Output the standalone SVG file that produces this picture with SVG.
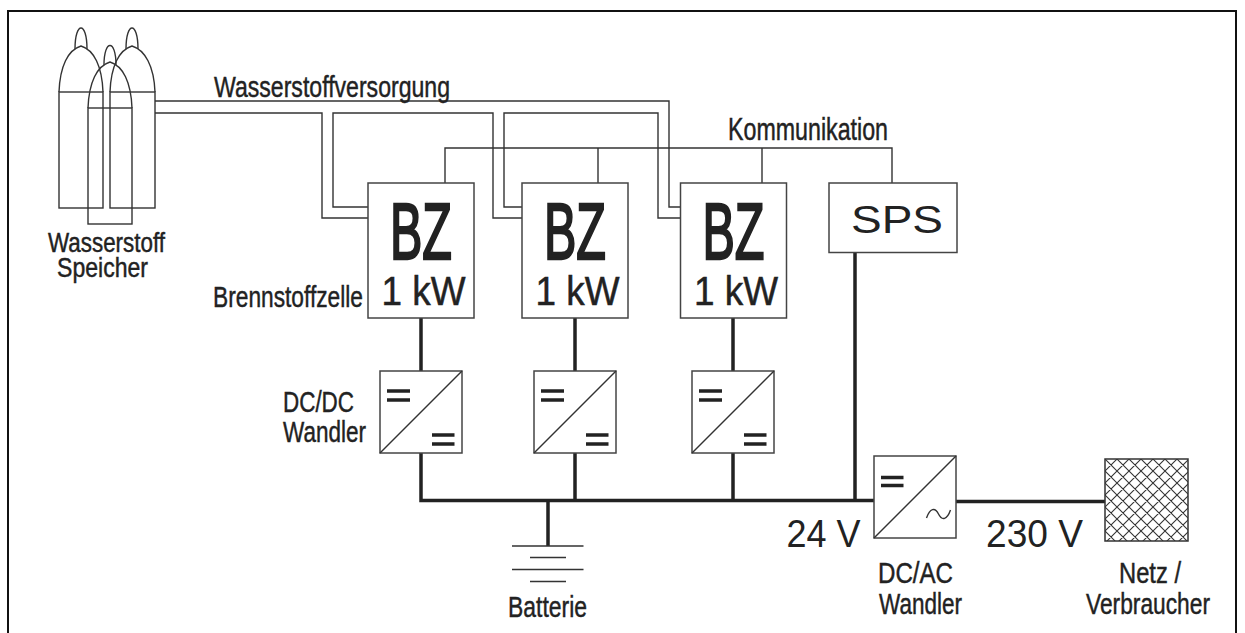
<svg xmlns="http://www.w3.org/2000/svg" width="1245" height="633" viewBox="0 0 1245 633">
  <style>
    .thin { fill: none; stroke: #333; stroke-width: 1.4; }
    .box { fill: #fff; stroke: #444; stroke-width: 1.5; }
    .bold { fill: none; stroke: #222; stroke-width: 3.5; }
    .bar { fill: none; stroke: #222; stroke-width: 3.5; }
    .lbl { font-family: "Liberation Sans", Arial, sans-serif; fill: #222; stroke: #222; stroke-width: 0.45; font-size: 30px; }
    .big { font-family: "Liberation Sans", Arial, sans-serif; fill: #222; }
    .bz { stroke: #222; stroke-width: 2.4; font-size: 79px; }
    .kw { stroke: #222; stroke-width: 0.5; font-size: 40px; }
  </style>
  <defs>
    <pattern id="hatch" width="12" height="12" patternUnits="userSpaceOnUse" x="1105" y="459">
      <path d="M-3,3 L3,-3 M0,12 L12,0 M9,15 L15,9 M-3,9 L3,15 M0,0 L12,12 M9,-3 L15,3" stroke="#333" stroke-width="1.1"/>
    </pattern>
  </defs>
  <rect width="1245" height="633" fill="#fff"/>

  <!-- outer frame -->
  <path d="M8,640 V11 H1236 V640" fill="none" stroke="#111" stroke-width="2"/>

  <!-- hydrogen storage: three gas cylinders -->
  <g id="speicher" class="thin">
    <rect x="59" y="92" width="44" height="116"/>
    <path d="M59,92 C60,66 68,50 81,46 C94,50 102,66 103,92"/>
    <path d="M75,49 C75,21 87,21 87,49"/>
    <rect x="110" y="92" width="45" height="116"/>
    <path d="M110,92 C111,66 119,50 132,46 C145,50 154,66 155,92"/>
    <path d="M126,49 C126,21 138,21 138,49"/>
    <rect x="88" y="108" width="44" height="116"/>
    <path d="M88,108 C89,82 97,66 110,62 C123,66 131,82 132,108"/>
    <path d="M104,65 C104,39 116,39 116,65"/>
  </g>
  <g id="speicher-label" class="lbl">
    <text x="48" y="251.5" textLength="117" lengthAdjust="spacingAndGlyphs" style="font-size:27px">Wasserstoff</text>
    <text x="57" y="277" textLength="91" lengthAdjust="spacingAndGlyphs" style="font-size:27px">Speicher</text>
  </g>

  <!-- connectors -->
  <g id="connectors">
    <!-- hydrogen supply piping -->
    <path class="thin" d="M155,101 H669 V207 H681"/>
    <path class="thin" d="M155,113 H322 V218 H368"/>
    <path class="thin" d="M368,207 H333 V113 H493 V218 H522"/>
    <path class="thin" d="M522,207 H504 V113 H658 V218 H681"/>
    <!-- communication bus -->
    <path class="thin" d="M445,183 V148 H892 V183"/>
    <path class="thin" d="M598,148 V183 M762,148 V183"/>
    <!-- fuel cell to DC/DC -->
    <path class="bold" d="M421,318 V371 M575,318 V371 M733,318 V371"/>
    <!-- 24 V bus -->
    <path class="bold" d="M421,453 V500.5 H874 M575,453 V500.5 M733,453 V500.5 M548,500.5 V546 M855,252 V500.5"/>
    <!-- 230 V output -->
    <path class="bold" d="M956,501.5 H1105"/>
  </g>
  <g id="labels-lines" class="lbl">
    <text x="214" y="96.5" textLength="236" lengthAdjust="spacingAndGlyphs">Wasserstoffversorgung</text>
    <text x="728" y="140" textLength="160" lengthAdjust="spacingAndGlyphs" style="font-size:31px">Kommunikation</text>
  </g>

  <!-- fuel cells -->
  <g id="bz1">
    <rect class="box" x="368" y="183" width="106" height="135"/>
    <text class="big bz" x="390" y="258.5" textLength="62" lengthAdjust="spacingAndGlyphs">BZ</text>
    <text class="big kw" x="381.5" y="305" textLength="84" lengthAdjust="spacingAndGlyphs">1 kW</text>
  </g>
  <g id="bz2">
    <rect class="box" x="522" y="183" width="106" height="135"/>
    <text class="big bz" x="544" y="258.5" textLength="62" lengthAdjust="spacingAndGlyphs">BZ</text>
    <text class="big kw" x="535.5" y="305" textLength="84" lengthAdjust="spacingAndGlyphs">1 kW</text>
  </g>
  <g id="bz3">
    <rect class="box" x="680.5" y="183" width="106" height="135"/>
    <text class="big bz" x="702.5" y="258.5" textLength="62" lengthAdjust="spacingAndGlyphs">BZ</text>
    <text class="big kw" x="694" y="305" textLength="84" lengthAdjust="spacingAndGlyphs">1 kW</text>
  </g>
  <g id="bz-label" class="lbl">
    <text x="213" y="306.5" textLength="150" lengthAdjust="spacingAndGlyphs">Brennstoffzelle</text>
  </g>

  <!-- PLC -->
  <g id="sps">
    <rect class="box" x="829" y="183" width="128" height="69.5"/>
    <text class="big" x="851" y="233.3" textLength="92" lengthAdjust="spacingAndGlyphs" style="font-size:38px">SPS</text>
  </g>

  <!-- DC/DC converters -->
  <g id="dcdc1">
    <rect class="box" x="380" y="371" width="82" height="82"/>
    <path class="thin" d="M380,453 L462,371"/>
    <path class="bar" d="M387,391 H410 M387,400 H410 M432,435 H454.5 M432,444 H454.5"/>
  </g>
  <g id="dcdc2">
    <rect class="box" x="534" y="371" width="82" height="82"/>
    <path class="thin" d="M534,453 L616,371"/>
    <path class="bar" d="M541,391 H564 M541,400 H564 M586,435 H608.5 M586,444 H608.5"/>
  </g>
  <g id="dcdc3">
    <rect class="box" x="692" y="371" width="82" height="82"/>
    <path class="thin" d="M692,453 L774,371"/>
    <path class="bar" d="M699,391 H722 M699,400 H722 M744,435 H766.5 M744,444 H766.5"/>
  </g>
  <g id="dcdc-label" class="lbl">
    <text x="283" y="412" textLength="71" lengthAdjust="spacingAndGlyphs">DC/DC</text>
    <text x="283" y="441.5" textLength="83" lengthAdjust="spacingAndGlyphs">Wandler</text>
  </g>

  <!-- battery -->
  <g id="batterie">
    <path class="thin" d="M512,546 H583.5 M530,557.5 H566 M512,569.5 H583.5 M530,581.5 H566"/>
    <text class="lbl" x="508" y="616.5" textLength="79" lengthAdjust="spacingAndGlyphs">Batterie</text>
  </g>

  <!-- DC/AC inverter -->
  <g id="dcac">
    <rect class="box" x="874" y="456" width="82" height="82"/>
    <path class="thin" d="M874,538 L956,456"/>
    <path class="bar" d="M881,477.5 H903.5 M881,485.5 H903.5"/>
    <path class="thin" d="M926.5,518 C930,508 935,507 938.5,514 C942,521 947,520 950.5,510"/>
    <text class="lbl" x="878" y="583.3" textLength="75" lengthAdjust="spacingAndGlyphs">DC/AC</text>
    <text class="lbl" x="879" y="614" textLength="83" lengthAdjust="spacingAndGlyphs">Wandler</text>
  </g>

  <!-- voltage levels -->
  <g id="spannungen" class="big">
    <text x="786.5" y="546.7" textLength="74" lengthAdjust="spacingAndGlyphs" style="font-size:38.5px">24 V</text>
    <text x="986" y="546.7" textLength="97" lengthAdjust="spacingAndGlyphs" style="font-size:38.5px">230 V</text>
  </g>

  <!-- grid / consumers -->
  <g id="netz">
    <rect x="1105" y="459" width="83" height="82" fill="url(#hatch)" stroke="#333" stroke-width="1.5"/>
    <text class="lbl" x="1119" y="583" textLength="62" lengthAdjust="spacingAndGlyphs">Netz /</text>
    <text class="lbl" x="1086" y="614" textLength="124" lengthAdjust="spacingAndGlyphs">Verbraucher</text>
  </g>
</svg>
